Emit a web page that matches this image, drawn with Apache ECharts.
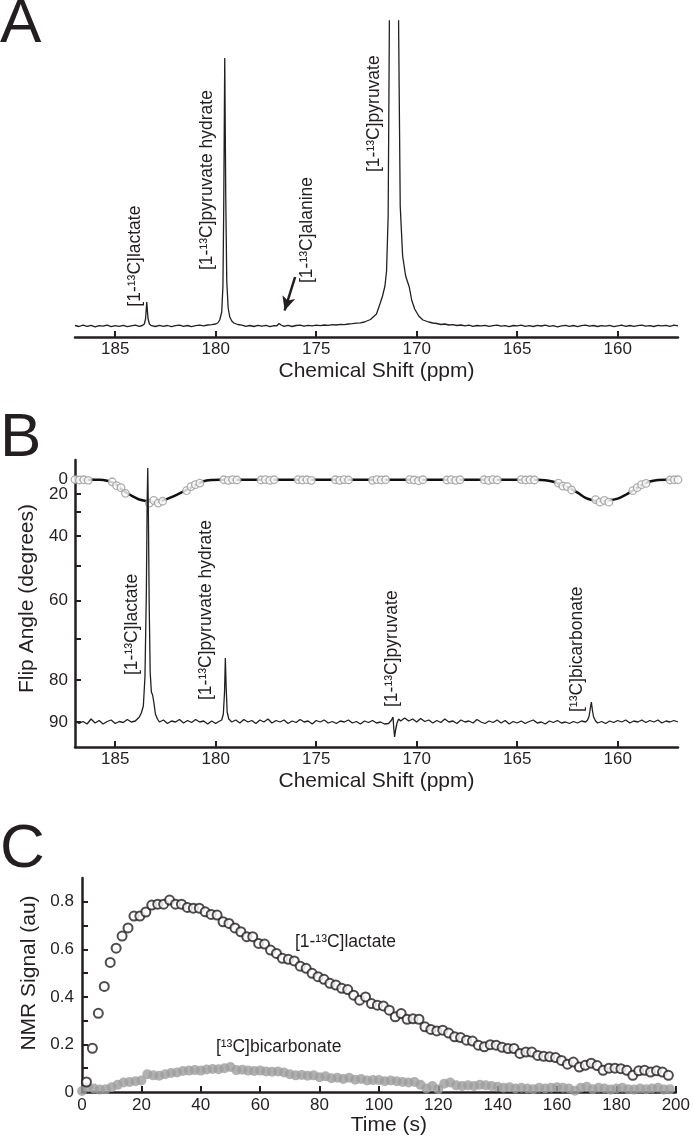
<!DOCTYPE html>
<html><head><meta charset="utf-8">
<script src="https://cdn.jsdelivr.net/npm/echarts@6/dist/echarts.min.js"></script>
<style>html,body{margin:0;padding:0;background:#fff}#c{width:693px;height:1137px}</style>
</head><body><div id="c"></div>
<script>
// ---------- Panel A: 13C spectrum (ppm, intensity) ----------
const spectrumA = [
[187.0,0.5],[186.8,-0.5],[186.6,0.8],[186.4,-0.3],[186.2,0.6],[186.0,-0.8],[185.8,0.4],[185.6,-0.2],[185.4,0.9],[185.2,-0.6],
[185.0,0.3],[184.8,-0.4],[184.6,0.7],[184.4,-0.7],[184.2,0.2],[184.0,0.8],[183.8,-0.3],[183.65,0.5],[183.55,2],[183.49,7],
[183.43,24],[183.37,8],[183.3,2],[183.2,0.3],[183.0,-0.5],[182.8,0.6],[182.6,-0.4],[182.4,0.5],[182.2,-0.7],[182.0,0.4],
[181.8,0.9],[181.6,-0.3],[181.4,0.5],[181.2,-0.6],[181.0,0.3],[180.8,0.8],[180.6,0.2],[180.4,1.0],[180.2,1.3],[180.0,2.0],
[179.9,3],[179.8,6],[179.7,14],[179.64,40],[179.6,120],[179.55,268],[179.5,130],[179.45,45],[179.38,18],[179.3,9],
[179.2,5],[179.1,3],[178.9,1.5],[178.7,0.8],[178.5,-0.3],[178.3,0.5],[178.1,-0.5],[177.9,0.6],[177.7,-0.2],[177.5,0.7],
[177.3,-0.6],[177.1,0.4],[176.95,0.2],[176.85,2.5],[176.75,1],[176.6,-0.3],[176.4,0.6],[176.2,-0.5],[176.0,0.5],[175.8,0.9],
[175.6,-0.2],[175.4,0.6],[175.2,0.1],[175.0,0.8],[174.8,0.4],[174.6,1.0],[174.4,0.6],[174.2,1.3],[174.0,1.0],[173.8,1.6],
[173.6,1.4],[173.4,2.0],[173.2,2.3],[173.0,2.8],[172.8,3.2],[172.6,4],[172.3,6.5],[172.0,12],[171.83,22],[171.7,30],
[171.58,40],[171.5,55],[171.42,110],[171.36,300],[171.3,700],[171.13,3000],[170.96,700],[170.9,300],[170.82,120],[170.7,70],
[170.55,50],[170.37,39],[170.25,26],[170.1,17],[169.9,10],[169.69,6],[169.4,4],[169.2,3],[169.0,2.5],[168.8,1.5],
[168.6,2.0],[168.4,1.0],[168.2,1.3],[168.0,0.5],[167.8,1.0],[167.6,0.2],[167.4,0.8],[167.2,-0.3],[167.0,0.5],[166.8,0.1],
[166.6,0.7],[166.4,-0.4],[166.2,0.3],[166.0,0.8],[165.8,-0.2],[165.6,0.4],[165.4,-0.6],[165.2,0.5],[165.0,0.2],[164.8,0.9],
[164.6,-0.3],[164.4,0.4],[164.2,-0.5],[164.0,0.6],[163.8,0.0],[163.6,0.8],[163.4,-0.4],[163.2,0.3],[163.0,-0.8],[162.8,0.2],
[162.6,0.7],[162.4,-0.3],[162.2,0.5],[162.0,-0.6],[161.8,0.4],[161.6,0.9],[161.4,-0.2],[161.2,0.5],[161.0,-0.5],[160.8,0.3],
[160.6,-0.2],[160.4,0.6],[160.2,-0.6],[160.0,0.2],[159.8,0.8],[159.6,-0.3],[159.4,0.5],[159.2,-0.4],[159.0,0.3],[158.8,0.9],
[158.6,-0.2],[158.4,0.4],[158.2,-0.5],[158.0,0.6],[157.8,0.1],[157.6,0.7],[157.4,-0.3],[157.2,0.8],[157.0,0.2]
];
const labelsA = [
  {text:'[1-¹³C]lactate', ppm:184.01, val:19.3},
  {text:'[1-¹³C]pyruvate hydrate', ppm:180.41, val:56},
  {text:'[1-¹³C]alanine', ppm:175.46, val:43},
  {text:'[1-¹³C]pyruvate', ppm:172.12, val:154}
];
const arrowA = [[176.05,49],[176.57,15.5]];

// ---------- Panel B: spectrum, flip-angle profile (degrees) and measured points ----------
const spectrumB = [
[187.0,1],[186.8,-1.5],[186.6,0.5],[186.4,-2],[186.2,3],[186.0,-1],[185.8,1.5],[185.6,-2],[185.4,0.5],[185.2,2],
[185.0,-1.5],[184.8,0.5],[184.6,-0.5],[184.4,2.5],[184.2,0],[184.0,1],[183.9,3],[183.8,5],[183.7,9],[183.6,16],
[183.52,45],[183.45,130],[183.41,220],[183.38,254],[183.35,210],[183.31,120],[183.26,50],[183.2,30],[183.14,27],[183.08,20],
[183.0,8],[182.9,3],[182.8,0],[182.6,2],[182.4,-1.5],[182.2,1],[182.0,0],[181.8,2.5],[181.6,-1],[181.4,1.5],
[181.2,-0.5],[181.0,2.5],[180.8,0],[180.6,1],[180.4,-2],[180.2,1],[180.0,-1.5],[179.85,0.5],[179.7,2],[179.62,8],
[179.56,30],[179.52,64],[179.48,35],[179.43,10],[179.35,3],[179.2,0],[179.0,2],[178.8,-1],[178.6,2.5],[178.4,0],
[178.2,1.5],[178.0,-1.5],[177.8,2],[177.6,0],[177.4,3],[177.2,-1],[177.0,1.5],[176.8,0],[176.6,2],[176.4,-1.5],
[176.2,1],[176.0,-0.5],[175.8,2.5],[175.6,0],[175.4,1],[175.2,-2],[175.0,1.5],[174.8,0],[174.6,2],[174.4,-1],
[174.2,0.5],[174.0,-1.5],[173.8,1],[173.6,0],[173.4,2],[173.2,-1],[173.0,0.5],[172.8,-2],[172.6,1],[172.4,-0.5],
[172.2,1.5],[172.0,-1],[171.8,0],[171.6,-2],[171.4,-1.5],[171.25,2],[171.18,5],[171.14,-6],[171.1,-15],[171.05,-8],
[170.98,-1],[170.9,3],[170.8,1],[170.6,4],[170.4,1],[170.2,3],[170.0,0],[169.8,3.5],[169.6,0.5],[169.4,2],
[169.2,-1],[169.0,1.5],[168.8,-0.5],[168.6,3],[168.4,0],[168.2,1],[168.0,-1.5],[167.8,2],[167.6,0],[167.4,1],
[167.2,-1],[167.0,2.5],[166.8,0],[166.6,-1.5],[166.4,1],[166.2,-0.5],[166.0,2],[165.8,-1],[165.6,1.5],[165.4,-2],
[165.2,0.5],[165.0,-1],[164.8,1],[164.6,-1.5],[164.4,0.5],[164.2,2],[164.0,-1],[163.8,0],[163.6,-2],[163.4,1],
[163.2,-0.5],[163.0,1.5],[162.8,-1],[162.6,0],[162.4,-1.5],[162.2,0.5],[162.0,-1],[161.8,1],[161.6,0],[161.5,2],
[161.42,6],[161.36,14],[161.31,20],[161.26,12],[161.2,5],[161.1,1],[161.0,-1],[160.8,0.5],[160.6,-1.5],[160.4,1],
[160.2,-0.5],[160.0,1.5],[159.8,0],[159.6,2],[159.4,-1],[159.2,1],[159.0,0],[158.8,2],[158.6,-0.5],[158.4,1.5],
[158.2,0],[158.0,2],[157.8,-1],[157.6,1],[157.4,0],[157.2,1.5],[157.0,0]
];
const flipProfile = [
[187.0,3],[185.8,3],[185.4,6],[185.0,11],[184.6,17.5],[184.2,21],[183.8,23.5],[183.4,24.5],[183.0,25],[182.6,24],
[182.2,22],[181.8,19.5],[181.4,16.5],[181.0,12.5],[180.6,7],[180.2,4],[179.8,3],[164.0,3],[163.6,5],[163.2,8],
[162.8,12],[162.4,15.5],[162.0,19],[161.6,22.5],[161.2,24],[160.8,24.5],[160.4,24],[160.0,23],[159.6,20.5],[159.2,17],
[158.8,12.5],[158.4,7.5],[158.0,4],[157.6,3],[157.0,3]
];
const flipMeasured = [
[187.0,2],[186.78,4],[186.56,3],[186.34,5],
[185.15,8],[184.93,13],[184.71,15],[184.49,19.5],
[183.3,25.5],[183.08,24],[182.86,25.5],[182.64,24.5],
[181.45,17.5],[181.23,14],[181.01,12],[180.79,10],
[179.6,3],[179.38,5],[179.16,2],[178.94,4],
[177.75,4],[177.53,2],[177.31,5],[177.09,3],
[175.9,2],[175.68,4],[175.46,3],[175.24,5],
[174.05,3],[173.83,5],[173.61,2],[173.39,4],
[172.2,5],[171.98,2],[171.76,4],[171.54,3],
[170.35,2],[170.13,4],[169.91,6],[169.69,3],
[168.5,4],[168.28,2],[168.06,5],[167.84,3],
[166.65,3],[166.43,5],[166.21,2],[165.99,4],
[164.8,2],[164.58,4],[164.36,3],[164.14,4],
[162.95,10],[162.73,13.5],[162.51,14],[162.29,17],
[161.1,23.5],[160.88,25],[160.66,24],[160.44,25],
[159.25,17.5],[159.03,15],[158.81,12],[158.59,10.5],
[157.4,4],[157.18,3],[157.0,3]
];
const flipLabelDeg = [20,40,60,80,90];
const flipZeroLabelDeg = [0];
const flipTickDeg = [0,20,30,40,50,60,70,80,90];
const labelsB = [
  {text:'[1-¹³C]lactate', ppm:184.16, val:47},
  {text:'[1-¹³C]pyruvate hydrate', ppm:180.46, val:22},
  {text:'[1-¹³C]pyruvate', ppm:171.2, val:15},
  {text:'[¹³C]bicarbonate', ppm:162.03, val:10}
];
const ppmTicks = [185,180,175,170,165,160];

// ---------- Panel C: time courses ----------
const lactate = [
[1.5,0.042],[3.5,0.184],[5.5,0.331],[7.5,0.444],[9.5,0.545],[11.5,0.605],[13.5,0.656],[15.5,0.69],[17.5,0.74],[19.5,0.74],
[21.5,0.757],[23.5,0.786],[25.5,0.79],[27.5,0.79],[29.5,0.807],[31.5,0.79],[33.5,0.79],[35.5,0.776],[37.5,0.773],[39.5,0.773],
[41.5,0.758],[43.5,0.747],[45.5,0.744],[47.5,0.716],[49.5,0.709],[51.5,0.69],[53.5,0.674],[55.5,0.653],[57.5,0.653],[59.5,0.625],
[61.5,0.622],[63.5,0.597],[65.5,0.583],[67.5,0.562],[69.5,0.558],[71.5,0.551],[73.5,0.529],[75.5,0.52],[77.5,0.499],[79.5,0.485],
[81.5,0.474],[83.5,0.457],[85.5,0.45],[87.5,0.436],[89.5,0.431],[91.5,0.407],[93.5,0.386],[95.5,0.40],[97.5,0.372],[99.5,0.365],
[101.5,0.362],[103.5,0.344],[105.5,0.316],[107.5,0.33],[109.5,0.306],[111.5,0.308],[113.5,0.306],[115.5,0.274],[117.5,0.263],[119.5,0.257],
[121.5,0.26],[123.5,0.248],[125.5,0.232],[127.5,0.229],[129.5,0.218],[131.5,0.214],[133.5,0.197],[135.5,0.19],[137.5,0.199],[139.5,0.197],
[141.5,0.188],[143.5,0.183],[145.5,0.183],[147.5,0.162],[149.5,0.168],[151.5,0.168],[153.5,0.154],[155.5,0.15],[157.5,0.148],[159.5,0.145],
[161.5,0.133],[163.5,0.117],[165.5,0.126],[167.5,0.105],[169.5,0.112],[171.5,0.121],[173.5,0.111],[175.5,0.091],[177.5,0.10],[179.5,0.10],
[181.5,0.098],[183.5,0.091],[185.5,0.07],[187.5,0.089],[189.5,0.091],[191.5,0.084],[193.5,0.089],[195.5,0.084],[197.5,0.07]
];
const bicarbonate = [
[0,0.004],[2,0.02],[4,0.015],[6,0.01],[8,0.012],[10,0.02],[12,0.03],[14,0.04],[16,0.042],[18,0.045],
[20,0.048],[22,0.075],[24,0.07],[26,0.068],[28,0.075],[30,0.08],[32,0.082],[34,0.088],[36,0.09],[38,0.092],
[40,0.09],[42,0.095],[44,0.097],[46,0.096],[48,0.1],[50,0.105],[52,0.092],[54,0.094],[56,0.09],[58,0.088],
[60,0.09],[62,0.086],[64,0.085],[66,0.086],[68,0.082],[70,0.075],[72,0.07],[74,0.072],[76,0.068],[78,0.07],
[80,0.062],[82,0.066],[84,0.058],[86,0.06],[88,0.055],[90,0.06],[92,0.052],[94,0.055],[96,0.048],[98,0.05],
[100,0.05],[102,0.045],[104,0.048],[106,0.045],[108,0.042],[110,0.04],[112,0.042],[114,0.03],[116,0.015],[118,0.025],
[120,0.012],[122,0.035],[124,0.04],[126,0.028],[128,0.025],[130,0.028],[132,0.025],[134,0.03],[136,0.028],[138,0.025],
[140,0.022],[142,0.018],[144,0.02],[146,0.015],[148,0.018],[150,0.015],[152,0.012],[154,0.018],[156,0.015],[158,0.018],
[160,0.02],[162,0.018],[164,0.015],[166,0.005],[168,0.018],[170,0.022],[172,0.012],[174,0.018],[176,0.015],[178,0.01],
[180,0.015],[182,0.018],[184,0.012],[186,0.01],[188,0.015],[190,0.012],[192,0.015],[194,0.018],[196,0.01],[198,0.012]
];
const signalLabels = [0,0.2,0.4,0.6,0.8];
const signalTicks = [0,0.1,0.2,0.3,0.4,0.5,0.6,0.7,0.8];
const labelsC = [
  {text:'[1-¹³C]lactate', t:71.7, v:0.632},
  {text:'[¹³C]bicarbonate', t:45.1, v:0.19}
];

// ---------- rendering ----------
const FONT = "'Liberation Sans', Arial, Helvetica, sans-serif";
const INK = '#231f20';
const toU = d => 1 - Math.cos(d * Math.PI / 180);   // flip-angle axis is linear in (1 - cos θ)
const fromU = v => String(Math.round(Math.acos(1 - v) * 180 / Math.PI));

const axisLineS = {show:true, onZero:false, lineStyle:{color:INK, width:2.5}};
const tickS = (vals) => ({show:true, inside:true, length:6, lineStyle:{color:INK, width:2}, customValues: vals});
const labS = (vals, extra) => Object.assign({customValues: vals, color:INK, fontSize:17, fontFamily:FONT, margin:4,
  hideOverlap:false, showMinLabel:true, showMaxLabel:true}, extra||{});
const nameS = {fontSize:21, color:INK, fontFamily:FONT};

const chart = echarts.init(document.getElementById('c'), null, {renderer:'canvas'});
const option = {
  animation:false,
  backgroundColor:'#fff',
  grid:[
    {left:75, right:15, top:21, height:316},
    {left:75, right:15, top:460, height:287},
    {left:82, right:14, top:878, height:214}
  ],
  xAxis:[
    {gridIndex:0, type:'value', min:157, max:187, inverse:true, axisLine:axisLineS, axisTick:tickS(ppmTicks),
     axisLabel:labS(ppmTicks), splitLine:{show:false}, name:'Chemical Shift (ppm)', nameLocation:'middle', nameGap:24, nameTextStyle:nameS},
    {gridIndex:1, type:'value', min:157, max:187, inverse:true, axisLine:axisLineS, axisTick:tickS(ppmTicks),
     axisLabel:labS(ppmTicks), splitLine:{show:false}, name:'Chemical Shift (ppm)', nameLocation:'middle', nameGap:24, nameTextStyle:nameS},
    {gridIndex:2, type:'value', min:0, max:200, interval:20, axisLine:axisLineS,
     axisTick:{show:true, inside:true, length:6, lineStyle:{color:INK, width:2}},
     axisLabel:{color:INK, fontSize:17, fontFamily:FONT, margin:5}, splitLine:{show:false},
     name:'Time (s)', nameLocation:'middle', nameGap:18, nameTextStyle:Object.assign({padding:[0,0,0,20]}, nameS)}
  ],
  yAxis:[
    {gridIndex:0, type:'value', min:-11, max:305, show:false},
    {gridIndex:1, type:'value', position:'left', offset:0, min:-0.08, max:1.103, inverse:true, axisLine:axisLineS,
     axisTick:tickS(flipTickDeg.map(toU)),
     axisLabel:labS(flipLabelDeg.map(toU), {margin:7, formatter: fromU}),
     splitLine:{show:false}, name:'Flip Angle (degrees)', nameLocation:'middle', nameGap:33,
     nameTextStyle:Object.assign({padding:[0,0,0,10]}, nameS)},
    {gridIndex:1, type:'value', min:-25, max:262, show:false},
    {gridIndex:2, type:'value', min:0, max:0.9, axisLine:axisLineS, axisTick:tickS(signalTicks),
     axisLabel:labS(signalLabels, {margin:8, formatter: v => v === 0 ? '0' : v.toFixed(1)}),
     splitLine:{show:false}, name:'NMR Signal (au)', nameLocation:'middle', nameGap:38,
     nameTextStyle:Object.assign({padding:[0,0,0,24]}, nameS)},
    // same flip-angle scale, carrying only the "0" label (kept separate so it is not dropped for crowding)
    {gridIndex:1, type:'value', position:'left', offset:0, min:-0.08, max:1.103, inverse:true,
     axisLine:{show:false}, axisTick:{show:false}, splitLine:{show:false},
     axisLabel:labS(flipZeroLabelDeg.map(toU), {margin:7, formatter: fromU})}
  ],
  series:[
    {type:'line', xAxisIndex:0, yAxisIndex:0, data:spectrumA, symbol:'none', lineStyle:{color:INK, width:1.3}, z:3,
     markLine:{silent:true, animation:false, symbol:['none','arrow'], symbolSize:[10,14], label:{show:false},
       lineStyle:{color:INK, width:2.5, type:'solid'}, data:[[{coord:arrowA[0]},{coord:arrowA[1]}]]}},
    {type:'line', xAxisIndex:1, yAxisIndex:1, data:flipProfile.map(p => [p[0], toU(p[1])]), symbol:'none', smooth:0.3,
     lineStyle:{color:'#111', width:2.5}, z:2},
    {type:'scatter', xAxisIndex:1, yAxisIndex:1, data:flipMeasured.map(p => [p[0], toU(p[1])]), symbol:'circle', symbolSize:7.5,
     itemStyle:{color:'#fff', borderColor:'#9a9a9a', borderWidth:1.3}, z:3},
    {type:'line', xAxisIndex:1, yAxisIndex:2, data:spectrumB, symbol:'none', lineStyle:{color:INK, width:1.3}, z:4},
    {type:'scatter', xAxisIndex:2, yAxisIndex:3, data:bicarbonate, symbol:'circle', symbolSize:10,
     itemStyle:{color:'#9e9e9e'}, z:2},
    {type:'scatter', xAxisIndex:2, yAxisIndex:3, data:lactate, symbol:'emptyCircle', symbolSize:9,
     itemStyle:{color:INK, borderWidth:1.4}, z:3}
  ]
};
chart.setOption(option);

const g = [];
function vlabel(finder, pt, text){
  const p = chart.convertToPixel(finder, pt);
  g.push({type:'text', x:p[0], y:p[1], rotation:Math.PI/2, silent:true, z:10,
    style:{text:text, align:'left', verticalAlign:'middle', fontSize:17.5, fontFamily:FONT, fill:INK}});
}
labelsA.forEach(l => vlabel({xAxisIndex:0, yAxisIndex:0}, [l.ppm, l.val], l.text));
labelsB.forEach(l => vlabel({xAxisIndex:1, yAxisIndex:2}, [l.ppm, l.val], l.text));
labelsC.forEach(l => {
  const p = chart.convertToPixel({xAxisIndex:2, yAxisIndex:3}, [l.t, l.v]);
  g.push({type:'text', x:p[0], y:p[1], silent:true, z:10,
    style:{text:l.text, align:'left', verticalAlign:'middle', fontSize:17.5, fontFamily:FONT, fill:INK}});
});
[['A',25],['B',439],['C',850]].forEach(([t,y]) => {
  g.push({type:'text', x:0, y:y, silent:true, z:10,
    style:{text:t, align:'left', verticalAlign:'middle', fontSize:62, fontFamily:FONT, fill:INK}});
});
chart.setOption({graphic:g});
</script></body></html>
